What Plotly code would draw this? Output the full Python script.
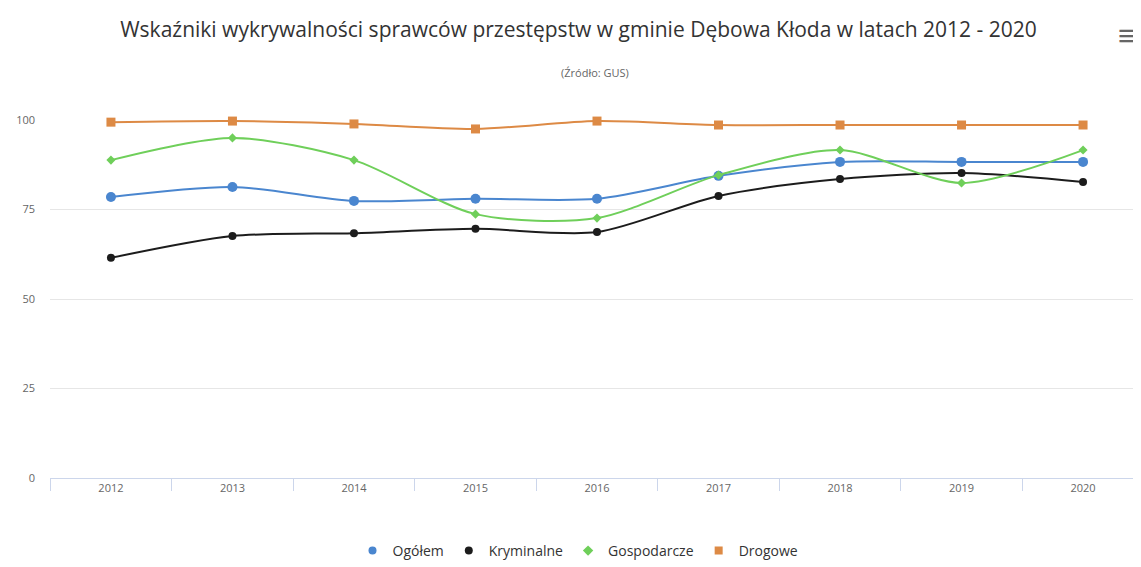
import plotly.graph_objects as go

years = ["2012", "2013", "2014", "2015", "2016", "2017", "2018", "2019", "2020"]
ogolem = [78.5, 81.3, 77.4, 78.0, 78.0, 84.4, 88.3, 88.3, 88.3]
kryminalne = [61.5, 67.6, 68.4, 69.6, 68.7, 78.8, 83.5, 85.2, 82.7]
gospodarcze = [88.8, 95.0, 88.8, 73.7, 72.6, 84.6, 91.6, 82.4, 91.6]
drogowe = [99.4, 99.7, 98.9, 97.5, 99.7, 98.6, 98.6, 98.6, 98.6]

FONT = "Open Sans, sans-serif"

series = [
    ("Ogółem", ogolem, "#4a86cf", "circle", 10),
    ("Kryminalne", kryminalne, "#1c1c1c", "circle", 8),
    ("Gospodarcze", gospodarcze, "#6fcf5a", "diamond", 7),
    ("Drogowe", drogowe, "#dd8a45", "square", 9),
]

fig = go.Figure()
for name, vals, col, sym, sz in series:
    fig.add_trace(go.Scatter(
        x=years, y=vals, name=name, mode="lines+markers",
        line=dict(color=col, width=2, shape="spline", smoothing=0.8),
        marker=dict(color=col, symbol=sym, size=sz),
        showlegend=False, cliponaxis=False,
    ))
# legend entries showing only the marker symbol
for name, vals, col, sym, sz in series:
    fig.add_trace(go.Scatter(
        x=[None], y=[None], name=name, mode="markers",
        marker=dict(color=col, symbol=sym, size=8),
    ))

# the page body adds an 8px offset, so screen positions are shifted by it
OFF = 8
W, H = 1141, 567
L, R, T, B = 50 - OFF, 1144 - OFF, 120 - OFF, 478 - OFF


def px(x):
    return (x - OFF - L) / (R - L)


def py(y):
    return (B - (y - OFF)) / (B - T)


fig.update_layout(
    width=W, height=H,
    paper_bgcolor="white", plot_bgcolor="white",
    margin=dict(l=L, r=W - R, t=T, b=H - B, autoexpand=False),
    font=dict(family=FONT, color="#555"),
    title=dict(text="Wskaźniki wykrywalności sprawców przestępstw w gminie Dębowa Kłoda w latach 2012 - 2020",
               x=0.5, xanchor="center", y=1 - (30 - OFF) / H, yanchor="middle",
               font=dict(size=21, color="#333", family=FONT)),
    xaxis=dict(type="category", showgrid=False, showline=True, linecolor="#ccd6eb",
               ticks="outside", tickson="boundaries", ticklen=12, tickcolor="#ccd6eb",
               tickfont=dict(size=11, color="#666"), automargin=False),
    yaxis=dict(range=[0, 100], tickvals=[0, 25, 50, 75, 100], showgrid=True,
               gridcolor="#e6e6e6", zeroline=False, showline=False,
               tickfont=dict(size=11, color="#666"), ticklabelstandoff=14, automargin=False),
    legend=dict(orientation="h", x=px(578), xanchor="center", yref="container",
                y=1 - (551 - OFF) / H, yanchor="middle",
                font=dict(size=14, color="#333")),
    showlegend=True,
)
fig.add_annotation(text="(Źródło: GUS)", xref="paper", yref="paper", x=px(595),
                   y=py(73), xanchor="center", yanchor="middle",
                   showarrow=False, font=dict(size=11, color="#666"))
fig.add_annotation(text="<b>≡</b>", xref="paper", yref="paper", x=px(1127),
                   y=py(35), xanchor="center", yanchor="middle",
                   showarrow=False, font=dict(size=30, color="#666"))

fig.write_html("out.html")
